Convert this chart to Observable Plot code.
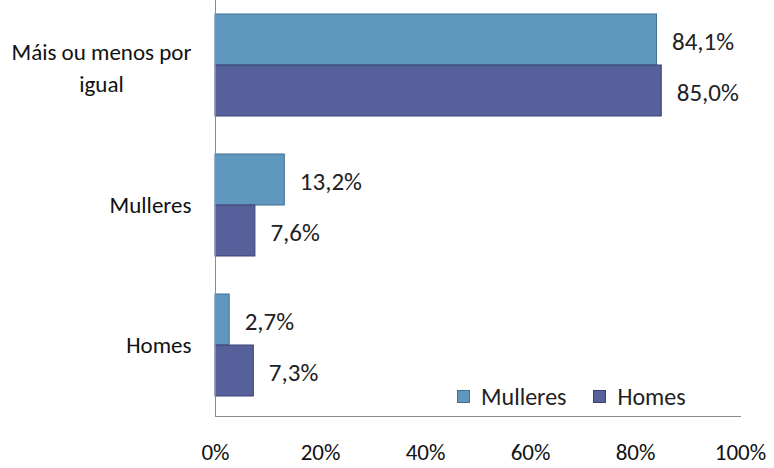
<!DOCTYPE html>
<html><head><meta charset="utf-8">
<script src="https://cdn.jsdelivr.net/npm/d3@7"></script>
<script src="https://cdn.jsdelivr.net/npm/@observablehq/plot@0.6"></script>
<style>
body{margin:0;background:#fff;font-family:Carlito,Lato,"Open Sans",sans-serif;}
#wrap{position:relative;width:774px;height:468px;overflow:hidden}
#legend{position:absolute;left:457px;top:382px;display:flex;align-items:center;font-size:24px;color:#222;white-space:nowrap}
#legend .it{display:flex;align-items:center;margin-right:27px}
#legend .sw{width:13px;height:13px;margin-right:11px;box-sizing:border-box}
</style></head><body><div id="wrap"></div>
<script>
const categories = ["Máis ou menos por igual", "Mulleres", "Homes"];
const series = ["Mulleres", "Homes"];
const mulleresValues = [84.1, 13.2, 2.7];
const homesValues = [85.0, 7.6, 7.3];
const xTicks = [0, 20, 40, 60, 80, 100];
const colors = ["#6097be", "#56609a"];
const strokes = ["#426f90", "#3a4272"];

const data = categories.flatMap((c, i) => [
  {cat: c, s: series[0], v: mulleresValues[i]},
  {cat: c, s: series[1], v: homesValues[i]}
]);
const fmt = v => v.toFixed(1).replace(".", ",") + "%";
const pct = d => d + "%";
const half = 51;

const chart = Plot.plot({
  width: 774, height: 468,
  marginLeft: 215, marginRight: 34, marginTop: 0, marginBottom: 52,
  style: {fontFamily: "Carlito, Lato, 'Open Sans', sans-serif", fontSize: "23px", color: "#111", background: "transparent"},
  x: {domain: [0, 100], ticks: xTicks, tickFormat: pct},
  y: {domain: categories, paddingInner: 0.2714, paddingOuter: 0.1214, align: 0.41, label: null},
  marks: [
    Plot.barX(data.filter(d => d.s === series[0]), {x: "v", y: "cat", fill: colors[0], stroke: strokes[0], strokeWidth: 1, insetBottom: half}),
    Plot.barX(data.filter(d => d.s === series[1]), {x: "v", y: "cat", fill: colors[1], stroke: strokes[1], strokeWidth: 1, insetTop: half}),
    Plot.text(data.filter(d => d.s === series[0]), {x: "v", y: "cat", text: d => fmt(d.v), textAnchor: "start", dx: 15, dy: -24, fontSize: 25, fill: "#222"}),
    Plot.text(data.filter(d => d.s === series[1]), {x: "v", y: "cat", text: d => fmt(d.v), textAnchor: "start", dx: 15, dy: 27, fontSize: 25, fill: "#222"}),
    Plot.ruleX([0], {stroke: "#8c8c8c", strokeWidth: 1}),
    Plot.frame({anchor: "bottom", stroke: "#8c8c8c", strokeWidth: 1}),
    Plot.axisX({ticks: xTicks, tickFormat: pct, tickSize: 0, tickPadding: 27, fontSize: 23, label: null}),
    Plot.axisY({tickSize: 0, tickPadding: 24, fontSize: 23, label: null,
      tickFormat: d => d === categories[0] ? "Máis ou menos por\nigual" : d})
  ]
});
const wrap = document.getElementById("wrap");
wrap.appendChild(chart);

// center multi-line category label block
chart.querySelectorAll("text").forEach(t => {
  const ts = t.querySelectorAll("tspan");
  if (ts.length > 1) {
    let w = 0;
    ts.forEach(s => { w = Math.max(w, s.getComputedTextLength()); });
    t.setAttribute("text-anchor", "middle");
    ts.forEach((s, i) => {
      s.setAttribute("x", -w / 2);
      if (i === 0) s.setAttribute("dy", "-0.08em");
      else s.setAttribute("dy", "1.4em");
    });
  }
});

const legend = document.createElement("div");
legend.id = "legend";
series.forEach((s, i) => {
  const it = document.createElement("div");
  it.className = "it";
  const sw = document.createElement("div");
  sw.className = "sw";
  sw.style.background = colors[i];
  sw.style.border = "1px solid " + strokes[i];
  const lb = document.createElement("span");
  lb.textContent = s;
  it.appendChild(sw); it.appendChild(lb);
  legend.appendChild(it);
});
wrap.appendChild(legend);
</script></body></html>
